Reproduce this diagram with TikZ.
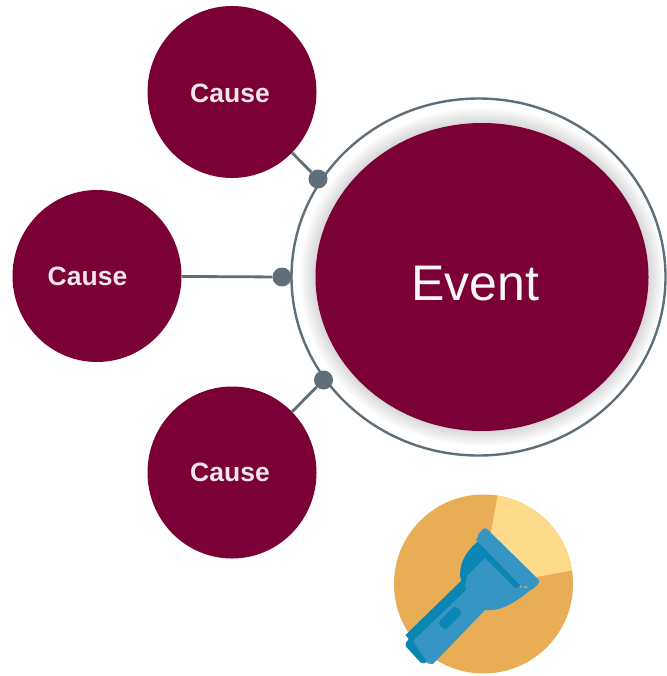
\documentclass[tikz,border=0pt]{standalone}
\usepackage{fontspec}
\setmainfont{Liberation Sans}
\usetikzlibrary{shapes.geometric}
\definecolor{wine}{HTML}{7B0036}
\definecolor{slateg}{HTML}{5F6F79}
\definecolor{sandc}{HTML}{E9AD55}
\definecolor{lightc}{HTML}{FEDB8A}
\definecolor{bluel}{HTML}{3596C3}
\definecolor{blued}{HTML}{0A86B5}
\tikzset{
  causenode/.style={ellipse,fill=wine,inner sep=0pt,minimum width=169pt,minimum height=172pt},
  causetext/.style={text=white!90!wine,inner sep=0pt,font=\bfseries\fontsize{26.5}{30}\selectfont},
  eventnode/.style={ellipse,fill=wine,inner sep=0pt,minimum width=333pt,minimum height=308pt},
  eventtext/.style={text=white!96!wine,inner sep=0pt,font=\fontsize{50}{54}\selectfont},
  ringnode/.style={ellipse,draw=slateg,line width=2.4pt,inner sep=0pt,minimum width=374pt,minimum height=357pt},
  dotnode/.style={circle,fill=slateg,inner sep=0pt,minimum size=19pt},
  link/.style={draw=slateg,line width=2.8pt}
}
\begin{document}
\begin{tikzpicture}[x=1pt,y=-1pt]
\useasboundingbox (0,0) rectangle (666,676);
\fill[white] (0,0) rectangle (666,676);
% ring and soft glow
\node[ringnode] (ring) at (478.5,277) {};
\foreach \g in {15,13,11,9,7,5,3,1}
  \fill[black,opacity=0.018] (482,277) ellipse ({166.5+\g} and {154+\g});
\node[eventnode] (event) at (482,277) {};
\node[eventtext] (eventlabel) at (475.5,284) {Event};
% causes
\node[causenode] (c1) at (232,92) {};
\node[causenode] (c2) at (97,276) {};
\node[causenode] (c3) at (232,472.5) {};
\node[causetext] (t1) at (230,93) {Cause};
\node[causetext] (t2) at (87.5,276) {Cause};
\node[causetext] (t3) at (230,472) {Cause};
% dots and connectors
\node[dotnode] (d1) at (318,179) {};
\node[dotnode] (d2) at (282,277) {};
\node[dotnode] (d3) at (323.5,380) {};
\draw[link] (c1) -- (d1);
\draw[link] (c2) -- (d2);
\draw[link] (c3) -- (d3);
% flashlight icon
\node[circle,fill=sandc,inner sep=0pt,minimum size=179pt] (disc) at (483.5,584) {};
\begin{scope}
  \clip (483.5,584) circle (89.5);
  \fill[lightc] (490,537) -- (499,488) -- (610,488) -- (610,563.5) -- (530,578) -- cycle;
\end{scope}
% dark back of dome and handle
\fill[blued] (480,540) .. controls (466,550) and (457,566) .. (461,581) -- (405.5,635) -- (412,643) -- (470,610) -- (520,588) -- cycle;
% tail cap
\fill[blued,rounded corners=2pt] (410,637) -- (404.5,645) -- (422,664) -- (432,660) -- cycle;
% light body
\fill[bluel] (485,558) -- (468,575) .. controls (465,580) and (465,587) .. (466,590) -- (413,641) -- (428,663.5) -- (433,664) -- (485,610) .. controls (500,612) and (515,603) .. (533,588) -- (514,587) -- cycle;
% dark stripe under the lens
\fill[blued] (478,540) -- (485,558) -- (514,587) .. controls (517,590) and (522,586) .. (521,581) -- (484,538) -- cycle;
% lens bar
\fill[bluel,rounded corners=3pt] (476.5,536) -- (485,527) -- (540.5,581.5) -- (531,591) -- cycle;
\fill[bluel] (479,535) -- (524,581) -- (527,584) -- (523,588) -- (476,540) -- cycle;
% switch
\fill[blued,rounded corners=3pt] (455,605.5) -- (462.5,613) -- (445,630.5) -- (437.5,623) -- cycle;
\end{tikzpicture}
\end{document}
